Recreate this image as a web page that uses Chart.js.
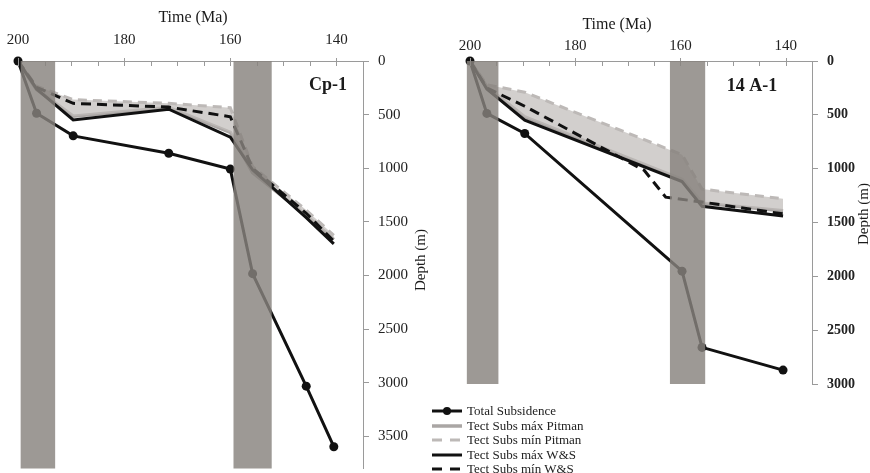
<!DOCTYPE html>
<html>
<head>
<meta charset="utf-8">
<script src="https://cdn.jsdelivr.net/npm/chart.js@4/dist/chart.umd.min.js"></script>
<style>
  html, body { margin: 0; padding: 0; background: #fff; width: 870px; height: 473px; overflow: hidden; }
  canvas { position: absolute; top: 0; }
  #left { left: 0; }
  #right { left: 440px; }
  #legend { position: absolute; left: 432px; top: 404px; font: 13px "Liberation Serif", "Times New Roman", serif; color: #222; }
  #legend .row { height: 14.5px; display: flex; align-items: center; white-space: nowrap; }
  #legend svg { width: 32px; height: 10px; margin-right: 3px; flex: none; }
</style>
</head>
<body>
<canvas id="left" width="440" height="473"></canvas>
<canvas id="right" width="430" height="473"></canvas>
<div id="legend"></div>
<script>
"use strict";

// ---- data (Ma, depth in m) ----
var seriesNames = ['Total Subsidence', 'Tect Subs máx Pitman', 'Tect Subs mín Pitman', 'Tect Subs máx W&S', 'Tect Subs mín W&S'];
var timeLabels = [200, 180, 160, 140];
var timeMinor = [140, 145, 150, 155, 160, 165, 170, 175, 180, 185, 190, 195, 200];
var depthTicks = [0, 500, 1000, 1500, 2000, 2500, 3000, 3500];

// Cp-1
var cpAges = [200, 196.5, 189.6, 171.6, 160, 155.8, 145.7, 140.5];
var cpTotal = [0, 487, 698, 860, 1008, 1983, 3032, 3597];
var cpPitmanMax = [0, 265, 515, 435, 665, 1040, 1440, 1665];
var cpPitmanMin = [0, 235, 360, 395, 435, 985, 1390, 1625];
var cpWSMax = [0, 260, 550, 450, 710, 1015, 1460, 1705];
var cpWSMin = [0, 245, 395, 430, 520, 1000, 1420, 1680];
var cpBands = [[199.5, 193.0], [159.4, 152.2]];

// 14 A-1
var aAges = [200, 196.8, 189.6, 159.7, 155.9, 140.5];
var aTotal = [0, 487, 673, 1952, 2660, 2871];
var aPitmanMax = [0, 240, 520, 1100, 1320, 1390];
var aPitmanMin = [0, 220, 290, 870, 1190, 1280];
var aWSMax = [0, 260, 550, 1120, 1350, 1440];
var aWSMinAges = [200, 196.8, 189.6, 166.9, 162.8, 155.9, 140.5];
var aWSMin = [0, 250, 420, 1015, 1265, 1310, 1420];
var aBands = [[200.6, 194.6], [162.0, 155.3]];

var SERIF = '"Liberation Serif", "Times New Roman", serif';
var AXIS = '#9a9a9a';
var BAND = 'rgba(136,130,126,0.82)';

var styles = [
    {color: '#111', width: 3, dash: [], dot: true},
    {color: '#aaa6a4', width: 3.5, dash: []},
    {color: '#bdb9b7', width: 3, dash: [9, 6]},
    {color: '#111', width: 3, dash: []},
    {color: '#111', width: 3, dash: [10, 6]},
];

function pts(ages, vals) {
    return ages.map(function (a, i) { return {x: a, y: vals[i]}; });
}

function makeDatasets(total, pitMax, pitMin, wsMax, wsMin) {
    var data = [total, pitMax, pitMin, wsMax, wsMin];
    var order = [0, 4, 3, 1, 2];
    return data.map(function (d, i) {
        var s = styles[i];
        var ds = {
            label: seriesNames[i],
            data: d,
            borderColor: s.color,
            backgroundColor: s.color,
            borderWidth: s.width,
            borderDash: s.dash,
            pointRadius: s.dot ? 4.5 : 0,
            pointBorderWidth: 0,
            tension: 0,
            clip: false,
            order: order[i],
            fill: false,
        };
        if (i === 2) {
            ds.fill = '-1';
            ds.backgroundColor = 'rgba(192,188,186,0.72)';
        }
        return ds;
    });
}

// inward time ticks, grey stage bands and the free text of each panel
var panelDecor = {
    id: 'panelDecor',
    afterDatasetsDraw: function (chart, args, o) {
        var ctx = chart.ctx, a = chart.chartArea, x = chart.scales.x;
        ctx.save();
        ctx.strokeStyle = AXIS;
        ctx.lineWidth = 1;
        timeMinor.forEach(function (v) {
            var px = Math.round(x.getPixelForValue(v)) + 0.5;
            var major = v % 20 === 0;
            ctx.beginPath();
            ctx.moveTo(px, a.top - (major ? 3 : 0));
            ctx.lineTo(px, a.top + 5);
            ctx.stroke();
        });
        ctx.fillStyle = BAND;
        o.bands.forEach(function (b) {
            var x0 = x.getPixelForValue(b[0]), x1 = x.getPixelForValue(b[1]);
            ctx.fillRect(x0, a.top, x1 - x0, a.bottom - a.top);
        });
        ctx.fillStyle = '#1a1a1a';
        ctx.textAlign = 'center';
        ctx.textBaseline = 'middle';
        o.notes.forEach(function (n) {
            ctx.save();
            ctx.font = n.font;
            ctx.translate(n.x, n.y);
            if (n.rotate) ctx.rotate(-Math.PI / 2);
            ctx.fillText(n.text, 0, 0);
            ctx.restore();
        });
        ctx.restore();
    }
};

function noPadding(s) {
    s.paddingLeft = s.paddingRight = s.paddingTop = s.paddingBottom = 0;
}

function makeOptions(cfg) {
    return {
        responsive: false,
        animation: false,
        layout: {padding: {left: cfg.left, right: 0, top: 0, bottom: cfg.bottom}},
        plugins: {
            legend: {display: false},
            tooltip: {enabled: false},
            panelDecor: {bands: cfg.bands, notes: cfg.notes},
        },
        scales: {
            x: {
                type: 'linear',
                position: 'top',
                reverse: true,
                min: 135,
                max: 200,
                afterBuildTicks: function (s) { s.ticks = timeLabels.map(function (v) { return {value: v}; }); },
                afterFit: function (s) { s.height = 61; noPadding(s); },
                grid: {display: false, drawTicks: false},
                border: {display: true, color: AXIS, width: 1},
                ticks: {
                    padding: cfg.xPad,
                    maxRotation: 0,
                    color: '#222',
                    font: {family: SERIF, size: 15},
                    callback: function (v) { return String(v); },
                },
            },
            y: {
                type: 'linear',
                position: 'right',
                reverse: true,
                min: 0,
                max: cfg.maxDepth,
                afterBuildTicks: function (s) {
                    s.ticks = depthTicks.filter(function (v) { return v <= cfg.maxDepth; })
                        .map(function (v) { return {value: v}; });
                },
                afterFit: function (s) { s.width = cfg.yWidth; noPadding(s); },
                grid: {drawOnChartArea: false, tickLength: 6, color: AXIS},
                border: {display: true, color: AXIS, width: 1},
                ticks: {
                    padding: 9,
                    color: '#222',
                    font: {family: SERIF, size: cfg.ySize, weight: cfg.yWeight},
                    callback: function (v) { return String(v); },
                },
            },
        },
    };
}

new Chart(document.getElementById('left').getContext('2d'), {
    type: 'line',
    data: {
        datasets: makeDatasets(pts(cpAges, cpTotal), pts(cpAges, cpPitmanMax), pts(cpAges, cpPitmanMin),
            pts(cpAges, cpWSMax), pts(cpAges, cpWSMin)),
    },
    options: makeOptions({
        left: 18, bottom: 3, yWidth: 77, xPad: 12, maxDepth: 3800, ySize: 15, yWeight: 'normal',
        bands: cpBands,
        notes: [
            {text: 'Time (Ma)', x: 193, y: 18, font: '16px ' + SERIF},
            {text: 'Cp-1', x: 328, y: 85, font: 'bold 18px ' + SERIF},
            {text: 'Depth (m)', x: 421, y: 260, font: '15px ' + SERIF, rotate: true},
        ],
    }),
    plugins: [panelDecor],
});

new Chart(document.getElementById('right').getContext('2d'), {
    type: 'line',
    data: {
        datasets: makeDatasets(pts(aAges, aTotal), pts(aAges, aPitmanMax), pts(aAges, aPitmanMin),
            pts(aAges, aWSMax), pts(aWSMinAges, aWSMin)),
    },
    options: makeOptions({
        left: 30, bottom: 89, yWidth: 58, xPad: 6, maxDepth: 3000, ySize: 14, yWeight: 'bold',
        bands: aBands,
        notes: [
            {text: 'Time (Ma)', x: 177, y: 25, font: '16px ' + SERIF},
            {text: '14 A-1', x: 312, y: 86, font: 'bold 18px ' + SERIF},
            {text: 'Depth (m)', x: 424, y: 214, font: '15px ' + SERIF, rotate: true},
        ],
    }),
    plugins: [panelDecor],
});

// legend (HTML, same styles as the datasets)
var legend = document.getElementById('legend');
var svgNS = 'http://www.w3.org/2000/svg';
seriesNames.forEach(function (name, i) {
    var s = styles[i];
    var row = document.createElement('div');
    row.className = 'row';
    var svg = document.createElementNS(svgNS, 'svg');
    svg.setAttribute('viewBox', '0 0 32 10');
    var line = document.createElementNS(svgNS, 'line');
    line.setAttribute('x1', 0); line.setAttribute('x2', 30);
    line.setAttribute('y1', 5); line.setAttribute('y2', 5);
    line.setAttribute('stroke', s.color);
    line.setAttribute('stroke-width', s.width);
    if (s.dash.length) line.setAttribute('stroke-dasharray', '10 8');
    svg.appendChild(line);
    if (s.dot) {
        var c = document.createElementNS(svgNS, 'circle');
        c.setAttribute('cx', 15); c.setAttribute('cy', 5); c.setAttribute('r', 4);
        c.setAttribute('fill', s.color);
        svg.appendChild(c);
    }
    row.appendChild(svg);
    var t = document.createElement('span');
    t.textContent = name;
    row.appendChild(t);
    legend.appendChild(row);
});
</script>
</body>
</html>
